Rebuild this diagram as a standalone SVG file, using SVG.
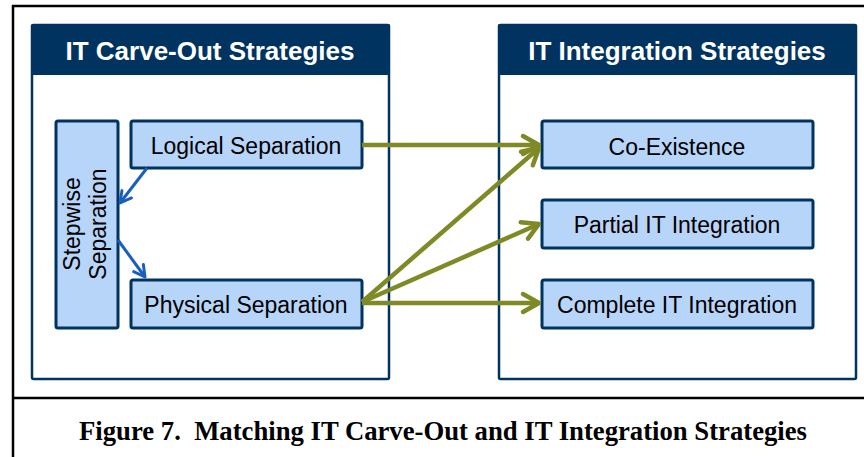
<svg xmlns="http://www.w3.org/2000/svg" width="864" height="457" viewBox="0 0 864 457">
<defs>
<style>
.frame{stroke:#000;stroke-width:2.5;fill:none}
.panel{fill:#fff;stroke:#00335F;stroke-width:2.5}
.hdr{fill:#00335F}
.htxt{font-family:"Liberation Sans",Arial,sans-serif;font-weight:bold;font-size:26px;fill:#fff;text-anchor:middle}
.box{fill:#B7D4F9;stroke:#00335F;stroke-width:3}
.btxt{font-family:"Liberation Sans",Arial,sans-serif;font-size:23px;fill:#000;text-anchor:middle}
.olive{stroke:#7F8A26;stroke-width:4.5;fill:none;marker-end:url(#ah-olive)}
.blue{stroke:#1A5FC0;stroke-width:3;fill:none;marker-end:url(#ah-blue)}
.cap{font-family:"Liberation Serif","Times New Roman",serif;font-weight:bold;font-size:26.7px;fill:#000}
</style>
<marker id="ah-olive" markerUnits="userSpaceOnUse" markerWidth="26" markerHeight="26" viewBox="-22 -13 26 26" refX="0" refY="0" orient="auto">
<path d="M-16,-9 L0,0 L-16,9" fill="none" stroke="#7F8A26" stroke-width="4.5" stroke-linejoin="round" stroke-linecap="round"/>
</marker>
<marker id="ah-blue" markerUnits="userSpaceOnUse" markerWidth="20" markerHeight="20" viewBox="-16 -10 20 20" refX="0" refY="0" orient="auto">
<path d="M-11,-6 L0,0 L-11,6" fill="none" stroke="#1A5FC0" stroke-width="3" stroke-linejoin="round" stroke-linecap="round"/>
</marker>
</defs>
<rect width="864" height="457" fill="#fff"/>
<g id="frame">
<line class="frame" x1="13" y1="5" x2="13" y2="457"/>
<line class="frame" x1="12" y1="6" x2="864" y2="6"/>
<line class="frame" x1="12" y1="398" x2="864" y2="398"/>
</g>
<g id="carve-out-panel">
<rect class="panel" x="32" y="25" width="357" height="354" rx="1.5"/>
<rect class="hdr" x="31" y="24" width="359" height="51" rx="1.5"/>
<text class="htxt" x="210" y="60">IT Carve-Out Strategies</text>
</g>
<g id="integration-panel">
<rect class="panel" x="499" y="25" width="357" height="354" rx="1.5"/>
<rect class="hdr" x="498" y="24" width="359" height="51" rx="1.5"/>
<text class="htxt" x="677" y="60">IT Integration Strategies</text>
</g>
<g id="stepwise">
<rect class="box" x="56" y="121" width="62" height="207" rx="2"/>
<text class="btxt" transform="translate(87,224) rotate(-90)"><tspan x="0" y="-7">Stepwise</tspan><tspan x="0" y="19">Separation</tspan></text>
</g>
<g id="logical">
<rect class="box" x="131" y="121" width="231" height="47" rx="2"/>
<text class="btxt" x="246" y="154">Logical Separation</text>
</g>
<g id="physical">
<rect class="box" x="131" y="280" width="231" height="48" rx="2"/>
<text class="btxt" x="246" y="313">Physical Separation</text>
</g>
<g id="coexistence">
<rect class="box" x="542" y="121" width="271" height="47" rx="2"/>
<text class="btxt" x="677" y="155">Co-Existence</text>
</g>
<g id="partial">
<rect class="box" x="542" y="200" width="271" height="48" rx="2"/>
<text class="btxt" x="677" y="233">Partial IT Integration</text>
</g>
<g id="complete">
<rect class="box" x="542" y="280" width="271" height="48" rx="2"/>
<text class="btxt" x="677" y="313">Complete IT Integration</text>
</g>
<g id="connectors">
<line class="blue" x1="147" y1="168" x2="120" y2="203"/>
<line class="blue" x1="118" y1="240" x2="145" y2="277"/>
<line class="olive" x1="362" y1="145" x2="539" y2="145"/>
<line class="olive" x1="362" y1="302" x2="539" y2="148"/>
<line class="olive" x1="362" y1="302" x2="539" y2="224"/>
<line class="olive" x1="362" y1="303" x2="539" y2="303"/>
</g>
<g id="caption">
<text class="cap" x="79" y="440" xml:space="preserve">Figure 7.  Matching IT Carve-Out and IT Integration Strategies</text>
</g>
</svg>
